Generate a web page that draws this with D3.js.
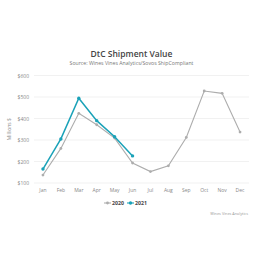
<!DOCTYPE html>
<html>
<head>
<meta charset="utf-8">
<script src="https://cdn.jsdelivr.net/npm/d3@7"></script>
<style>
  body { margin: 0; background: #fff; }
  svg { display: block; font-family: "Open Sans", sans-serif; }
</style>
</head>
<body>
<svg id="chart" width="258" height="258"></svg>
<script>
// Chart data
const months = ["Jan", "Feb", "Mar", "Apr", "May", "Jun", "Jul", "Aug", "Sep", "Oct", "Nov", "Dec"];
const values2020 = [137, 261, 424, 371, 309, 193, 153, 180, 312, 528, 517, 337];
const values2021 = [165, 305, 494, 390, 315, 226];
const yTicks = [100, 200, 300, 400, 500, 600];
const seriesNames = ["2020", "2021"];
const seriesColors = ["#adadad", "#1aa2b8"];

const svg = d3.select("#chart");

// Plot area
const margin = { top: 75.5, right: 9, bottom: 75, left: 34 };
const width = 258 - margin.left - margin.right;
const height = 258 - margin.top - margin.bottom;

const g = svg.append("g")
  .attr("transform", `translate(${margin.left}, ${margin.top})`);

const xScale = d3.scaleBand()
  .domain(months)
  .range([0, width]);

const yScale = d3.scaleLinear()
  .domain([100, 600])
  .range([height, 0]);

// Gridlines
g.selectAll(".grid")
  .data(yTicks)
  .enter()
  .append("line")
  .attr("x1", 0)
  .attr("x2", width)
  .attr("y1", d => yScale(d))
  .attr("y2", d => yScale(d))
  .attr("stroke", "#e8e8e8")
  .attr("stroke-width", 0.6);

// Y axis labels
g.selectAll(".ylab")
  .data(yTicks)
  .enter()
  .append("text")
  .attr("x", -5)
  .attr("y", d => yScale(d) + 2)
  .attr("text-anchor", "end")
  .attr("font-size", "5px")
  .attr("fill", "#888")
  .text(d => "$" + d);

// X axis labels
g.selectAll(".xlab")
  .data(months)
  .enter()
  .append("text")
  .attr("x", d => xScale(d) + xScale.bandwidth() / 2)
  .attr("y", height + 9)
  .attr("text-anchor", "middle")
  .attr("font-size", "5px")
  .attr("fill", "#888")
  .text(d => d);

// Y axis title
g.append("text")
  .attr("transform", "rotate(-90)")
  .attr("x", -height / 2)
  .attr("y", -23)
  .attr("text-anchor", "middle")
  .attr("font-size", "5px")
  .attr("fill", "#888")
  .text("Millions $");

// Lines and points
const line = d3.line()
  .x((d, i) => xScale(months[i]) + xScale.bandwidth() / 2)
  .y(d => yScale(d));

[values2020, values2021].forEach((vals, k) => {
  g.append("path")
    .datum(vals)
    .attr("fill", "none")
    .attr("stroke", seriesColors[k])
    .attr("stroke-width", k === 1 ? 1.5 : 1.1)
    .attr("d", line);

  g.selectAll(".pt" + k)
    .data(vals)
    .enter()
    .append("circle")
    .attr("cx", (d, i) => xScale(months[i]) + xScale.bandwidth() / 2)
    .attr("cy", d => yScale(d))
    .attr("r", k === 1 ? 1.7 : 1.4)
    .attr("fill", seriesColors[k]);
});

// Title and subtitle
svg.append("text")
  .attr("x", 131.5)
  .attr("y", 57)
  .attr("text-anchor", "middle")
  .attr("font-size", "8.5px")
  .attr("font-weight", "600")
  .attr("fill", "#444")
  .text("DtC Shipment Value");

svg.append("text")
  .attr("x", 131.5)
  .attr("y", 65)
  .attr("text-anchor", "middle")
  .attr("font-size", "5.2px")
  .attr("fill", "#777")
  .text("Source: Wines Vines Analytics/Sovos ShipCompliant");

// Legend
const legend = svg.append("g");
const legendX = [104, 127];
seriesNames.forEach((name, k) => {
  const lx = legendX[k];
  legend.append("line")
    .attr("x1", lx).attr("x2", lx + 7)
    .attr("y1", 203).attr("y2", 203)
    .attr("stroke", seriesColors[k])
    .attr("stroke-width", 1.1);
  legend.append("circle")
    .attr("cx", lx + 3.5).attr("cy", 203).attr("r", k === 1 ? 1.7 : 1.4)
    .attr("fill", seriesColors[k]);
  legend.append("text")
    .attr("x", lx + 8)
    .attr("y", 205)
    .attr("font-size", "5.2px")
    .attr("font-weight", "bold")
    .attr("fill", "#444")
    .text(name);
});

// Credits
svg.append("text")
  .attr("x", 248)
  .attr("y", 215)
  .attr("text-anchor", "end")
  .attr("font-size", "3.8px")
  .attr("fill", "#999")
  .text("Wines Vines Analytics");
</script>
</body>
</html>
